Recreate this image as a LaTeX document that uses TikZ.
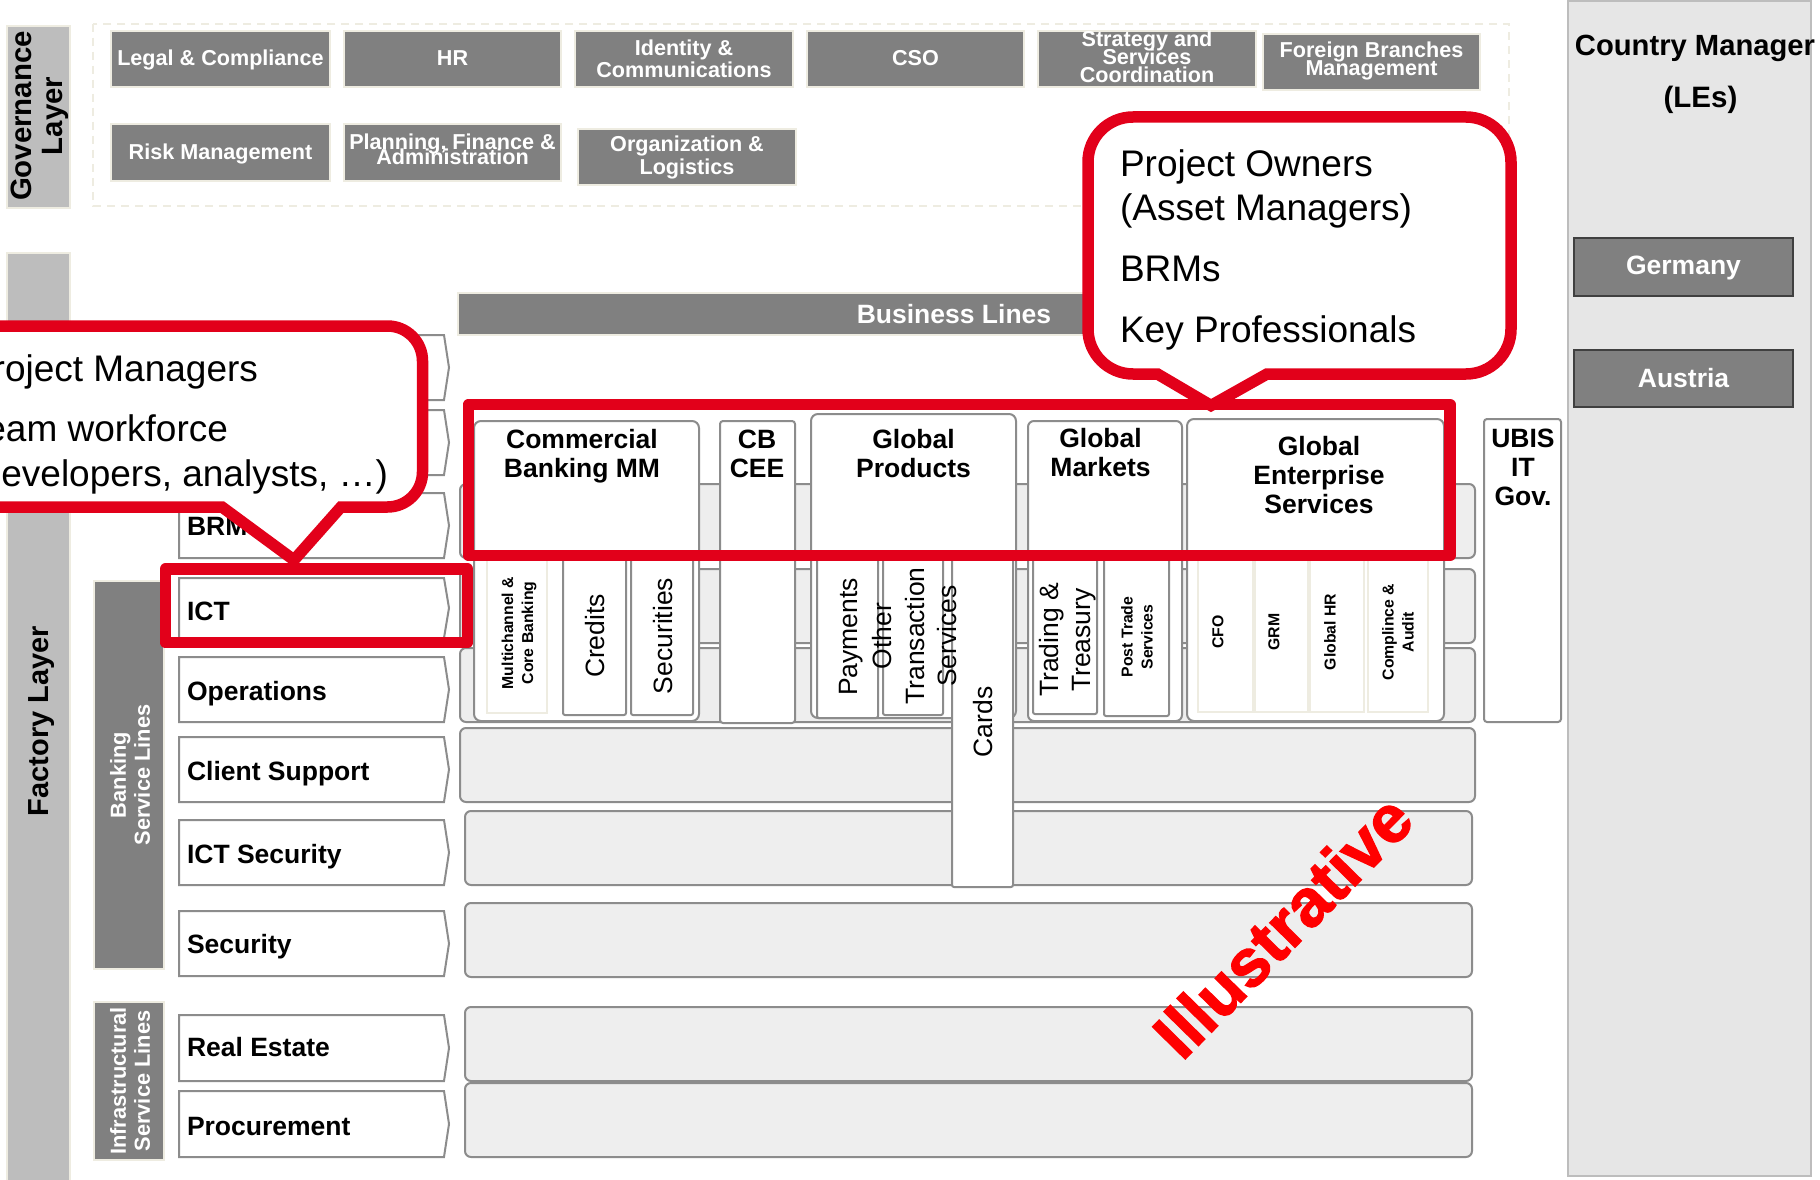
\documentclass[tikz,border=0pt]{standalone}
\usepackage{fontspec}
\setmainfont{Liberation Sans}
\newfontfamily\stampfont[BoldFeatures={FakeBold=1.8}]{Liberation Sans}
\definecolor{ucred}{HTML}{E2001A}
\definecolor{midgray}{HTML}{808080}
\definecolor{linegray}{HTML}{8C8C8C}
\definecolor{rowgray}{HTML}{EEEEEE}
\definecolor{layergray}{HTML}{BDBDBD}
\definecolor{panelgray}{HTML}{E6E6E6}
\definecolor{cream}{HTML}{EEECE1}
\newcommand{\fs}[2]{\fontsize{#1}{#2}\selectfont\lineskiplimit=-1000pt\relax}
\tikzset{
  txt/.style={inner sep=0pt,outer sep=0pt,align=center,text=black},
  govbox/.style={fill=midgray,draw=cream,line width=2pt},
  govtext/.style={txt,text=white,font=\bfseries\fs{21.6}{#1}},
  layerbox/.style={fill=layergray,draw=cream,line width=2pt},
  laner/.style={fill=white,draw=linegray,line width=2pt,line join=miter},
  lanetext/.style={txt,anchor=base west,font=\bfseries\fs{26.5}{29}},
  rowbar/.style={fill=rowgray,draw=linegray,line width=2pt,rounded corners=6pt},
  column/.style={fill=white,draw=linegray,line width=2pt},
  subbox/.style={fill=white,draw=linegray,line width=2pt,rounded corners=2pt},
  creambox/.style={fill=white,draw=cream,line width=2pt},
  coltext/.style={txt,font=\bfseries\fs{26.5}{29}},
  vertext/.style={txt,rotate=90,font=\fs{26.5}{32.5}},
  smalltext/.style={txt,rotate=90,font=\bfseries\fs{15.8}{20}},
  redrect/.style={draw=ucred,line width=11.5pt,line join=round},
  callout/.style={draw=ucred,fill=white,line width=11.5pt,line join=miter,miter limit=10},
  calltext/.style={txt,anchor=base west,font=\fs{37}{42}},
  grayhead/.style={fill=midgray,draw=cream,line width=2pt},
  countrybox/.style={fill=midgray,draw=black!75,line width=2pt},
}
\newcommand{\lane}[5][9.5]{%
  \draw[laner] (179,#3) -- (444,#3) -- (449,{(#3+#4)/2}) -- (444,#4) -- (179,#4) -- cycle;
  \node[lanetext] (#2) at (187,{(#3+#4)/2+#1}) {#5};}
\begin{document}
\begin{tikzpicture}[x=1pt,y=-1pt]
\useasboundingbox (0,0) rectangle (1820,1180);
\clip (0,0) rectangle (1820,1180);
\fill[white] (0,0) rectangle (1820,1180);

% right panel
\draw[fill=panelgray,draw=layergray,line width=2pt] (1568,1) rectangle (1811,1176);
\node[txt,font=\bfseries\fs{29.2}{34}] (cm) at (1695,48) {Country Manager};
\node[txt,font=\bfseries\fs{29.5}{34}] (les) at (1700.5,100) {(LEs)};
\draw[countrybox] (1574,238) rectangle node[txt,text=white,yshift=-1pt,font=\bfseries\fs{26.5}{29}] (germany) {Germany} (1793,296);
\draw[countrybox] (1574,350) rectangle node[txt,text=white,font=\bfseries\fs{26.5}{29}] (austria) {Austria} (1793,407);

% governance
\draw[layerbox] (7,26) rectangle (70,208);
\node[txt,rotate=90,font=\bfseries\fs{29.4}{31}] (govl) at (40,116) {Governance\\Layer};
\draw[cream,line width=1.5pt,dash pattern=on 8pt off 6pt] (93,24) rectangle (1509,206);
\draw[govbox] (111,31) rectangle node[govtext=22,yshift=-1pt] (g1) {Legal \& Compliance} (330,87);
\draw[govbox] (344,31) rectangle node[govtext=22,yshift=1pt] (g2) {HR} (561,87);
\draw[govbox] (575,31) rectangle node[govtext=22.5] (g3) {Identity \&\\Communications} (793,87);
\draw[govbox] (807,31) rectangle node[govtext=22,yshift=1pt] (g4) {CSO} (1024,87);
\draw[govbox] (1038,31) rectangle node[govtext=18,yshift=2pt] (g5) {Strategy and\\Services\\Coordination} (1256,87);
\draw[govbox] (1263,34) rectangle node[govtext=18,yshift=1pt] (g6) {Foreign Branches\\Management} (1480,90);
\draw[govbox] (111,124) rectangle node[govtext=22,yshift=-1pt] (g7) {Risk Management} (330,181);
\draw[govbox] (344,124) rectangle node[govtext=14.5,yshift=3pt] (g8) {Planning, Finance \&\\Administration} (561,181);
\draw[govbox] (578,129) rectangle node[govtext=23] (g9) {Organization \&\\Logistics} (796,185);

% factory layer
\draw[layerbox] (7,253) rectangle (70,1190);
\node[txt,rotate=90,font=\bfseries\fs{29}{34}] (factory) at (42,721) {Factory Layer};
\draw[grayhead] (94,581) rectangle (164,969);
\node[txt,rotate=90,text=white,font=\bfseries\fs{21.8}{24}] (bsl) at (130,775) {Banking\\Service Lines};
\draw[grayhead] (94,1002) rectangle (164,1160);
\node[txt,rotate=90,text=white,font=\bfseries\fs{21.8}{24}] (isl) at (130,1081) {Infrastructural\\Service Lines};

% business lines header
\draw[govbox] (458,293) rectangle (1458,335);
\node[txt,text=white,font=\bfseries\fs{26.5}{29}] (bl) at (954,314) {Business Lines};

% rows
\draw[rowbar] (460,484) rectangle (1475,558);
\draw[rowbar] (460,569) rectangle (1475,643);
\draw[rowbar] (460,648) rectangle (1475,722);
\draw[rowbar] (460,728) rectangle (1475,802);
\draw[rowbar] (465,811) rectangle (1472,885);
\draw[rowbar] (465,903) rectangle (1472,977);
\draw[rowbar] (465,1007) rectangle (1472,1081);
\draw[rowbar] (465,1083) rectangle (1472,1157);

% columns
\draw[column,rounded corners=7pt] (474,421) rectangle (699,721);
\draw[column,rounded corners=3pt] (720,421) rectangle (795,723);
\draw[column,rounded corners=7pt] (811,414) rectangle (1016,718);
\draw[column,rounded corners=6pt] (1028,421) rectangle (1182,721);
\draw[column,rounded corners=7pt] (1187,419) rectangle (1444,721);
\draw[column,rounded corners=3pt] (1484,419) rectangle (1561,722);

% sub boxes
\draw[creambox] (487,556) rectangle (547,713);
\draw[subbox] (563,556) rectangle (626,715);
\draw[subbox] (631,556) rectangle (693,715);
\draw[subbox] (817,556) rectangle (878,718);
\draw[subbox] (883,556) rectangle (943,715);
\draw[subbox] (952,556) rectangle (1013,887);
\draw[subbox] (1033,556) rectangle (1097,714);
\draw[subbox] (1104,556) rectangle (1169,716);
\draw[creambox] (1198,556) rectangle (1253,712);
\draw[creambox] (1255,556) rectangle (1308,712);
\draw[creambox] (1310,556) rectangle (1364,712);
\draw[creambox] (1368,556) rectangle (1428,712);

% sub box labels
\node[smalltext] (multi) at (519,633) {Multichannel \&\\Core Banking};
\node[vertext] (credits) at (595,636) {Credits};
\node[vertext] (secur) at (663,636) {Securities};
\node[vertext] (paym) at (851,637) {Payments};
\node[vertext] (other) at (915,636) {Other\\Transaction\\Services};
\node[vertext] (cards) at (983,722) {Cards};
\node[vertext] (trad) at (1067.5,640) {Trading \&\\Treasury};
\node[smalltext] (post) at (1137,637) {Post Trade\\Services};
\node[smalltext] (cfo) at (1218,632) {CFO};
\node[smalltext] (grm) at (1274,632) {GRM};
\node[smalltext] (hr) at (1330,632) {Global HR};
\node[smalltext] (compl) at (1398,632) {Complince \&\\Audit};

% column titles
\node[coltext] (c1) at (582,456) {Commercial\\Banking MM};
\node[coltext] (c2) at (757,454) {CB\\CEE};
\node[coltext] (c3) at (913.5,454) {Global\\Products};
\node[coltext] (c4) at (1100.5,453) {Global\\Markets};
\node[coltext] (c5) at (1319,475) {Global\\Enterprise\\Services};
\node[coltext] (c6) at (1523,467) {UBIS\\IT\\Gov.};

% left lanes
\lane{l1}{335}{400}{}
\lane{l2}{410}{475}{}
\lane{brm}{493}{558}{BRM}
\lane[12]{ict}{578}{638}{ICT}
\lane[10.5]{ops}{657}{722}{Operations}
\lane[10.5]{cs}{737}{802}{Client Support}
\lane[10.5]{icts}{820}{885}{ICT Security}
\lane{sec}{911}{976}{Security}
\lane[8.5]{re}{1015}{1081}{Real Estate}
\lane[11.5]{proc}{1091}{1157}{Procurement}

% red highlight rectangles
\draw[redrect] (468.5,404.5) rectangle (1450,555.5);
\draw[redrect] (165.5,569) rectangle (467.5,642.5);

% callouts
\draw[callout] (-80,326) -- (387.5,326) .. controls (406.8,326) and (422.5,341.7) .. (422.5,361)
  -- (422.5,472) .. controls (422.5,491.3) and (406.8,507) .. (387.5,507)
  -- (341,507) -- (294,560) -- (222,507) -- (-80,507) -- cycle;
\node[calltext,anchor=base east] (pm) at (258,381) {Project Managers};
\node[calltext,anchor=base east] (tw) at (228,441) {Team workforce};
\node[calltext,anchor=base east] (dev) at (388,486) {(developers, analysts, \ldots)};

\draw[callout] (1133,117) -- (1466,117) .. controls (1490.9,117) and (1511,137.1) .. (1511,162)
  -- (1511,329) .. controls (1511,353.9) and (1490.9,374) .. (1466,374)
  -- (1267,374) -- (1211,405.5) -- (1157.5,374) -- (1133,374)
  .. controls (1108.1,374) and (1088,353.9) .. (1088,329)
  -- (1088,162) .. controls (1088,137.1) and (1108.1,117) .. (1133,117) -- cycle;
\node[calltext] (po) at (1120,176) {Project Owners};
\node[calltext] (am) at (1120,220) {(Asset Managers)};
\node[calltext] (brms) at (1120,281) {BRMs};
\node[calltext] (kp) at (1120,342) {Key Professionals};

% stamp
\node[txt,rotate=45.5,text=red,font=\stampfont\bfseries\fs{67}{70}] (illus) at (1282.5,926) {Illustrative};
\end{tikzpicture}
\end{document}
